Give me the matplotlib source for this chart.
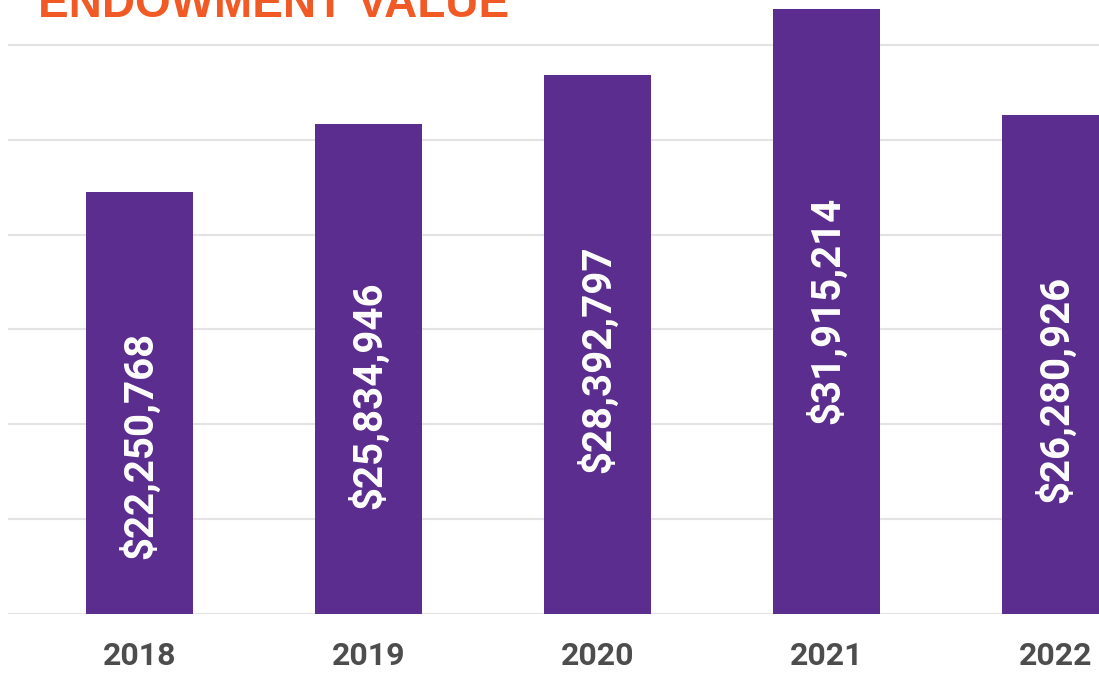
import matplotlib
matplotlib.use("Agg")
import matplotlib.pyplot as plt
from matplotlib import font_manager

years = ["2018", "2019", "2020", "2021", "2022"]
values = [22250768, 25834946, 28392797, 31915214, 26280926]
value_labels = ["$22,250,768", "$25,834,946", "$28,392,797", "$31,915,214", "$26,280,926"]
title = "ENDOWMENT VALUE"

names = {f.name for f in font_manager.fontManager.ttflist}
narrow = "Liberation Sans Narrow" if "Liberation Sans Narrow" in names else "Roboto"

W, H = 1099, 678
fig = plt.figure(figsize=(W / 100, H / 100), dpi=100)
ax = fig.add_axes([8 / W, 1 - 614 / H, 1 - 8 / W, 614 / H])

x = list(range(len(years)))
ax.bar(x, values, width=0.467, color="#5B2D8E", zorder=3)
ax.set_xlim(-0.574, 4.19)
ax.set_ylim(0, 32.37e6)
ax.set_yticks([0, 5e6, 10e6, 15e6, 20e6, 25e6, 30e6])
ax.yaxis.grid(True, color="#E3E3E3", linewidth=1.5, zorder=0)
ax.tick_params(axis="y", left=False, labelleft=False)
ax.tick_params(axis="x", bottom=False, pad=16)
for s in ax.spines.values():
    s.set_visible(False)
ax.set_xticks(x)
ax.set_xticklabels(years, fontsize=23, fontweight="bold", color="#4D4D4D",
                   family=narrow)

for xi, v, lab in zip(x, values, value_labels):
    yc = 0.736 * v - 7.48e6
    ax.text(xi, yc, lab, rotation=90, ha="center", va="center", color="white",
            fontsize=29, fontweight="bold", family=narrow, zorder=4)

fig.text(38 / W, 1 - 17 / H, title, ha="left", va="baseline", color="#F15A24",
         fontsize=33, fontweight="bold", family="Liberation Sans")

fig.savefig("out.png", dpi=100)
